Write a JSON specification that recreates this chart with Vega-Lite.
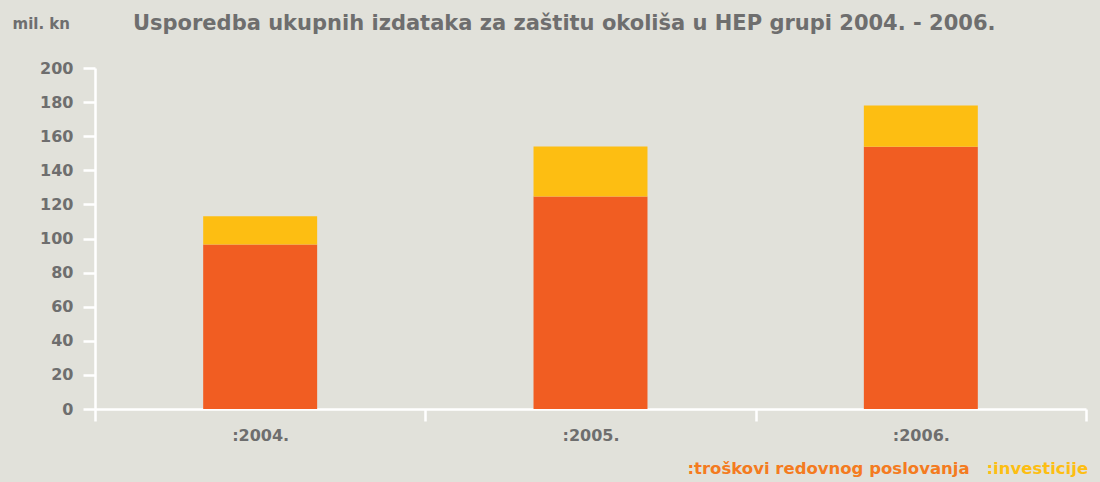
{
  "$schema": "https://vega.github.io/schema/vega-lite/v6.json",
  "width": 991,
  "height": 341,
  "autosize": "none",
  "padding": {"left": 95, "top": 68, "right": 14, "bottom": 73},
  "background": "#E1E1DA",
  "config": {
    "view": {"stroke": null},
    "font": "DejaVu Sans",
    "axis": {"grid": false, "labelFont": "DejaVu Sans", "labelFontWeight": "bold", "labelColor": "#6E6E6E", "labelFontSize": 16, "domainColor": "#FFFFFF", "domainWidth": 2.5, "tickColor": "#FFFFFF", "tickWidth": 2.5, "tickSize": 12}
  },
  "title": {
    "text": "Usporedba ukupnih izdataka za zaštitu okoliša u HEP grupi 2004. - 2006.",
    "anchor": "start",
    "frame": "group",
    "dx": 38,
    "dy": 22,
    "fontSize": 21,
    "fontWeight": "bold",
    "color": "#6E6E6E",
    "font": "DejaVu Sans"
  },
  "data": {
    "values": [
      {"godina": "2004", "vrsta": "troškovi redovnog poslovanja", "red": 1, "iznos": 96.5},
      {"godina": "2004", "vrsta": "investicije", "red": 2, "iznos": 16.5},
      {"godina": "2005", "vrsta": "troškovi redovnog poslovanja", "red": 1, "iznos": 124.7},
      {"godina": "2005", "vrsta": "investicije", "red": 2, "iznos": 29.3},
      {"godina": "2006", "vrsta": "troškovi redovnog poslovanja", "red": 1, "iznos": 153.8},
      {"godina": "2006", "vrsta": "investicije", "red": 2, "iznos": 24.2}
    ]
  },
  "mark": {"type": "bar", "width": {"band": 0.345}},
  "encoding": {
    "x": {
      "field": "godina",
      "type": "nominal",
      "scale": {"paddingInner": 0, "paddingOuter": 0},
      "axis": {"title": null, "labelAngle": 0, "tickBand": "extent", "labelPadding": 6, "labelExpr": "datum.label ? ':' + datum.label + '.' : ''"}
    },
    "y": {
      "field": "iznos",
      "type": "quantitative",
      "stack": "zero",
      "scale": {"domain": [0, 200], "nice": false},
      "axis": {
        "values": [0, 20, 40, 60, 80, 100, 120, 140, 160, 180, 200],
        "labelPadding": 10,
        "title": "mil. kn",
        "titleAngle": 0,
        "titleX": -83,
        "titleY": -40,
        "titleAlign": "left",
        "titleBaseline": "alphabetic",
        "titleFontSize": 15,
        "titleFontWeight": "bold",
        "titleColor": "#6E6E6E",
        "titleFont": "DejaVu Sans"
      }
    },
    "color": {
      "field": "vrsta",
      "type": "nominal",
      "scale": {"domain": ["troškovi redovnog poslovanja", "investicije"], "range": ["#F15D22", "#FDBE12"]},
      "legend": {
        "title": null,
        "orient": "none",
        "direction": "horizontal",
        "legendX": 576,
        "legendY": 393,
        "symbolSize": 0,
        "symbolOpacity": 0,
        "symbolStrokeWidth": 0,
        "labelOffset": 0,
        "columnPadding": -2,
        "labelLimit": 0,
        "labelFontSize": 16.5,
        "labelFontWeight": "bold",
        "labelFont": "DejaVu Sans",
        "labelExpr": "':' + datum.label",
        "encode": {
          "labels": {"update": {"fill": {"signal": "datum.value === 'investicije' ? '#FDBE12' : '#F47B20'"}}}
        }
      }
    },
    "order": {"field": "red", "type": "quantitative"}
  }
}
